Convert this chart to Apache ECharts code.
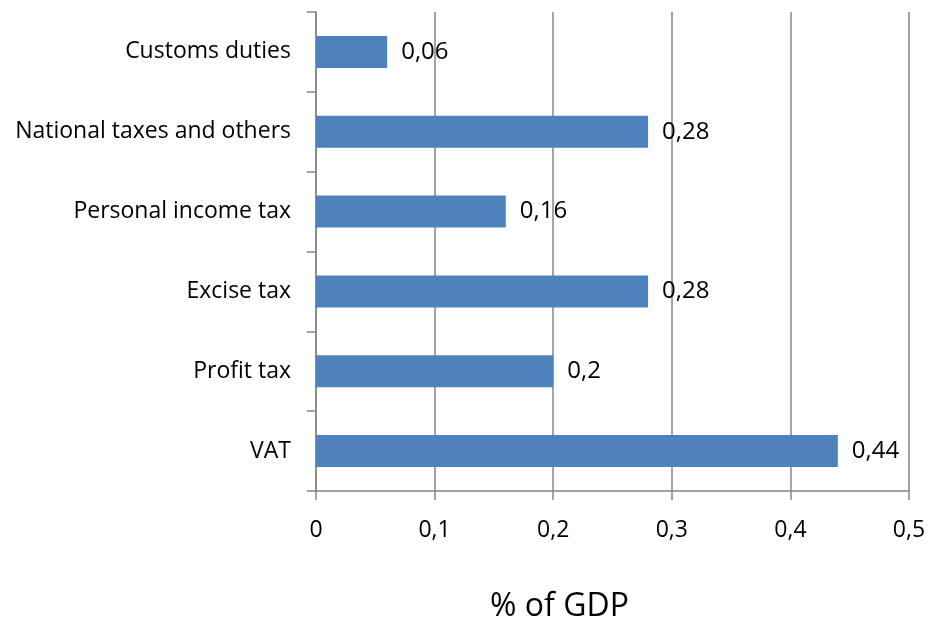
<!DOCTYPE html>
<html><head><meta charset="utf-8">
<script src="https://cdn.jsdelivr.net/npm/echarts@6/dist/echarts.min.js"></script>
<style>html,body{margin:0;padding:0;background:#fff}#c{width:928px;height:617px}</style>
</head><body><div id="c"></div>
<script>
var categories = ["VAT", "Profit tax", "Excise tax", "Personal income tax", "National taxes and others", "Customs duties"];
var values = [0.44, 0.2, 0.28, 0.16, 0.28, 0.06];
var xTicks = [0, 0.1, 0.2, 0.3, 0.4, 0.5];
var font = "Open Sans";
var chart = echarts.init(document.getElementById('c'));
chart.setOption({
  animation: false,
  grid: {left: 316, right: 19, top: 12, bottom: 126, containLabel: false, outerBoundsMode: 'none'},
  xAxis: {
    type: 'value', min: 0, max: 0.5, interval: 0.1,
    name: '% of GDP', nameLocation: 'middle', nameGap: 100,
    nameTextStyle: {fontFamily: font, fontSize: 32, color: '#000', padding: [0, 106, 0, 0]},
    axisLine: {show: true, lineStyle: {color: '#868686', width: 1.5}},
    axisTick: {show: true, length: 9, lineStyle: {color: '#868686', width: 1.5}},
    splitLine: {show: true, lineStyle: {color: '#868686', width: 1.5}},
    axisLabel: {fontFamily: font, fontSize: 23, color: '#000', margin: 28,
      formatter: function (v) { return String(Math.round(v * 10) / 10).replace('.', ','); }}
  },
  yAxis: {
    type: 'category', data: categories,
    axisLine: {show: true, lineStyle: {color: '#868686', width: 1.5}},
    axisTick: {show: true, length: 9, alignWithLabel: false, lineStyle: {color: '#868686', width: 1.5}},
    axisLabel: {fontFamily: font, fontSize: 23, color: '#000', margin: 25}
  },
  series: [{
    type: 'bar', data: values, barCategoryGap: '60%',
    itemStyle: {color: '#4F81BD'},
    label: {show: true, position: 'right', distance: 14, fontFamily: font, fontSize: 24, color: '#000',
      formatter: function (p) { return String(p.value).replace('.', ','); }}
  }]
});
</script></body></html>
